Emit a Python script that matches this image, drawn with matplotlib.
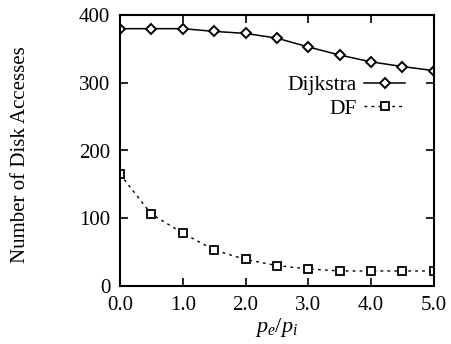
import numpy as np
import matplotlib
matplotlib.use("Agg")
import matplotlib.pyplot as plt

plt.rcParams["font.family"] = ["Liberation Serif", "DejaVu Serif"]
plt.rcParams["mathtext.fontset"] = "custom"
plt.rcParams["mathtext.it"] = "Liberation Serif:italic"
plt.rcParams["mathtext.rm"] = "Liberation Serif"

ratio = [0.0, 0.5, 1.0, 1.5, 2.0, 2.5, 3.0, 3.5, 4.0, 4.5, 5.0]
dijkstra = [380, 380, 380, 376, 373, 366, 353, 341, 331, 324, 318]
df_search = [165, 106, 78, 53, 39, 30, 25, 22, 22, 22, 22]

fig = plt.figure(figsize=(4.51, 3.44), dpi=100)
ax = fig.add_axes([0.266, 0.169, 0.696, 0.787])

ax.plot(ratio, dijkstra, color="black", lw=1.1, marker="D", ms=5,
        mfc="white", mec="black", mew=1.4, label="Dijkstra")
ax.plot(ratio, df_search, color="black", lw=1.0, ls=(0, (2, 3)), marker="s", ms=5.5,
        mfc="white", mec="black", mew=1.3, label="DF")

ax.set_xlim(0, 5.0)
ax.set_ylim(0, 400)
ax.set_xticks(np.arange(0, 5.01, 1.0))
ax.set_xticklabels(["0.0", "1.0", "2.0", "3.0", "4.0", "5.0"])
ax.set_yticks([0, 100, 200, 300, 400])
ax.tick_params(direction="in", top=True, right=True, length=6, width=1.2,
               labelsize=15, pad=7)
for s in ax.spines.values():
    s.set_linewidth(1.5)

ax.set_xlabel(r"$p_e/p_i$", fontsize=16, labelpad=1)
fig.text(0.046, 0.55, "Number of Disk Accesses", rotation=90, fontsize=15,
         ha="center", va="center")

ax.legend(loc="upper right", bbox_to_anchor=(0.936, 0.81), frameon=False,
          markerfirst=False, fontsize=15.5, handlelength=1.9, handletextpad=0.35,
          labelspacing=0.15, borderaxespad=0)

fig.savefig("out.png", dpi=100)
